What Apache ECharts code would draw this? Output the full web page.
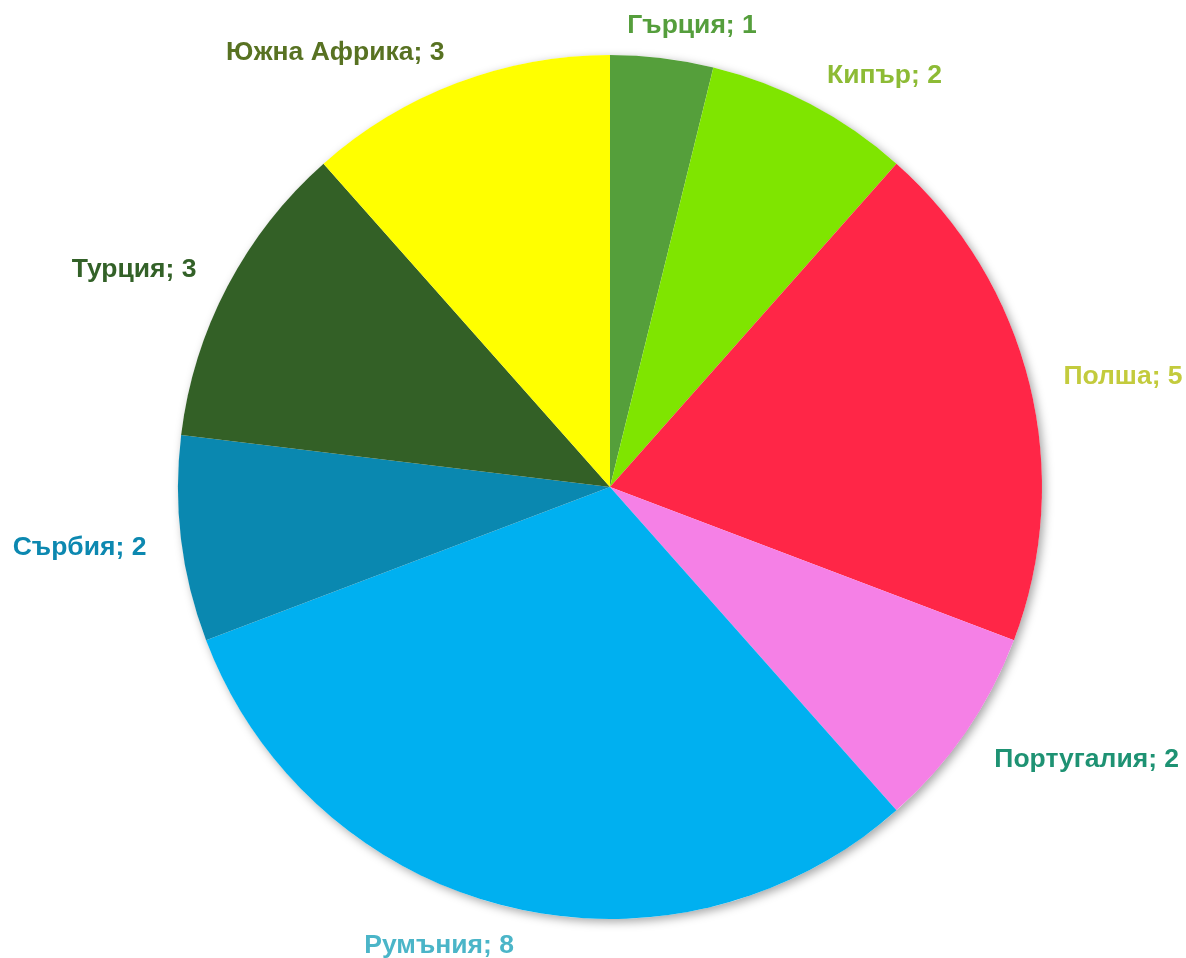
<!DOCTYPE html>
<html>
<head>
<meta charset="utf-8">
<script src="https://cdn.jsdelivr.net/npm/echarts@6/dist/echarts.min.js"></script>
<style>html,body{margin:0;padding:0;background:#fff}#c{width:1186px;height:958px}</style>
</head>
<body>
<div id="c"></div>
<script>
const categories = ['Гърция','Кипър','Полша','Португалия','Румъния','Сърбия','Турция','Южна Африка'];
const values = [1,2,5,2,8,2,3,3];
const sliceColors = ['#559F3B','#7FE500','#FF2647','#F580E6','#00B0F0','#0A88B0','#336026','#FFFF00'];
const labelColors = ['#559E3C','#8DBB35','#C3CB3D','#1E9273','#4BB5C8','#0C88B0','#336128','#587222'];

const CX = 610, CY = 487, R = 432, GAPX = 35, GAPY = 30;
const total = values.reduce((a,b)=>a+b,0);
const cum = [];
values.reduce((a,v,i)=>{cum[i]=a;return a+v;},0);
const clamp = (v,lo,hi)=>Math.max(lo,Math.min(hi,v));

const chart = echarts.init(document.getElementById('c'));
chart.setOption({
  backgroundColor:'#fff',
  animation:false,
  series:[
    {
      type:'pie', silent:true, center:[CX,CY], radius:R, z:1,
      label:{show:false}, labelLine:{show:false},
      data:[{value:1, itemStyle:{color:'#fff', shadowBlur:10, shadowColor:'rgba(0,0,0,0.35)', shadowOffsetX:3, shadowOffsetY:3}}]
    },
    {
      type:'pie', center:[CX,CY], radius:R, startAngle:90, clockwise:true, z:2,
      data: categories.map((n,i)=>({name:n, value:values[i],
        itemStyle:{color:sliceColors[i]},
        label:{color:labelColors[i]}})),
      label:{show:true, position:'outside', formatter:'{b}; {c}', overflow:'none',
        fontFamily:'Liberation Sans, Arial, sans-serif', fontWeight:'bold', fontSize:26.5},
      labelLine:{show:false},
      labelLayout:function(p){
        const i = p.dataIndex;
        const a = (cum[i] + values[i]/2)/total*2*Math.PI;
        const dx = Math.sin(a), dy = -Math.cos(a);
        const w = p.labelRect.width, h = p.labelRect.height;
        return {
          x: CX + dx*(R+GAPX) + clamp(dx*3.3,-1,1)*w/2,
          y: CY + 3 + dy*(R+GAPY) + clamp(dy,-0.4,0.5)*h/2,
          align:'center', verticalAlign:'middle'
        };
      }
    }
  ]
});
</script>
</body>
</html>
